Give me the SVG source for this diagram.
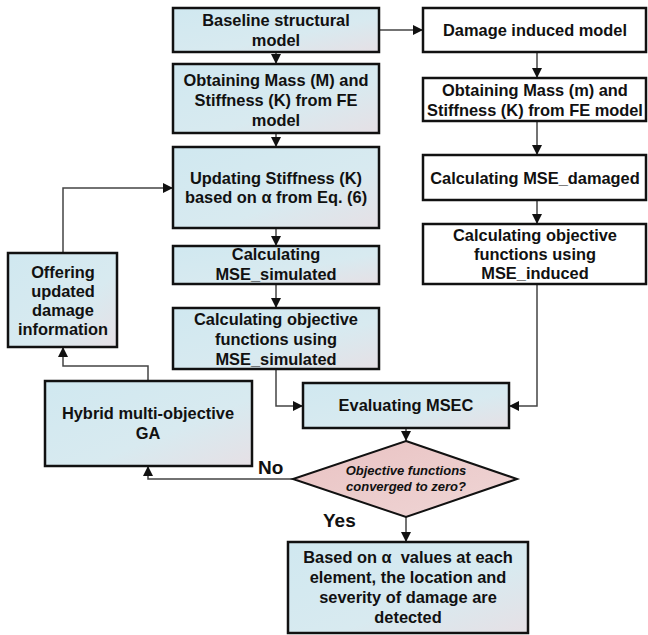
<svg xmlns="http://www.w3.org/2000/svg" width="648" height="635" viewBox="0 0 648 635">
<defs>
<linearGradient id="gb" x1="0" y1="0" x2="1" y2="1">
<stop offset="0" stop-color="#d0e8f0"/>
<stop offset="0.6" stop-color="#d8eaf0"/>
<stop offset="1" stop-color="#e6e0e5"/>
</linearGradient>
<linearGradient id="gp" x1="0" y1="0" x2="1" y2="1">
<stop offset="0" stop-color="#e9c2c2"/>
<stop offset="1" stop-color="#efd6d6"/>
</linearGradient>
<marker id="ah" markerUnits="userSpaceOnUse" markerWidth="10" markerHeight="10" viewBox="0 0 10 10" refX="10" refY="5" orient="auto">
<path d="M0,0 L10,5 L0,10 Z" fill="#111"/>
</marker>
</defs>
<style>
.b{fill:url(#gb);stroke:#111;stroke-width:2.5}
.w{fill:#fff;stroke:#111;stroke-width:2.5}
.d{fill:url(#gp);stroke:#111;stroke-width:2}
text{font-family:"Liberation Sans",Arial,sans-serif;font-weight:bold;font-size:16.4px;fill:#111;text-anchor:middle}
.i{font-style:italic;font-size:13px}
.l{font-size:19px;text-anchor:start}
#conn path{fill:none;stroke:#444;stroke-width:1.5;marker-end:url(#ah)}
</style>
<rect width="648" height="635" fill="#fff"/>
<g id="conn">
<path d="M276,52 V64"/>
<path d="M276,133 V147"/>
<path d="M276,228 V246"/>
<path d="M276,284 V308"/>
<path d="M276,369 V406 H303"/>
<path d="M379,30 H423"/>
<path d="M537,52 V78"/>
<path d="M537,121 V155"/>
<path d="M537,200 V224"/>
<path d="M537,284 V406 H509"/>
<path d="M406,428 V441"/>
<path d="M406,517 V542"/>
<path d="M293,479 H148 V466"/>
<path d="M148,381 V366 H63 V347"/>
<path d="M63,253 V188 H173"/>
</g>
<g id="baseline"><rect class="b" x="173" y="8" width="206" height="44"/>
<text x="276" y="26">Baseline structural</text><text x="276" y="46">model</text></g>
<g id="obtainM"><rect class="b" x="173" y="64" width="206" height="69"/>
<text x="276" y="86">Obtaining Mass (M) and</text><text x="276" y="106">Stiffness (K) from FE</text><text x="276" y="126">model</text></g>
<g id="updating"><rect class="b" x="173" y="147" width="206" height="81"/>
<text x="276" y="184">Updating Stiffness (K)</text><text x="276" y="203">based on α from Eq. (6)</text></g>
<g id="mseSim"><rect class="b" x="173" y="246" width="206" height="38"/>
<text x="276" y="260">Calculating</text><text x="276" y="280">MSE_simulated</text></g>
<g id="objSim"><rect class="b" x="173" y="308" width="206" height="61"/>
<text x="276" y="325">Calculating objective</text><text x="276" y="345">functions using</text><text x="276" y="365">MSE_simulated</text></g>
<g id="offering"><rect class="b" x="8" y="253" width="109" height="94"/>
<text x="63" y="278">Offering</text><text x="63" y="297">updated</text><text x="63" y="316">damage</text><text x="63" y="335">information</text></g>
<g id="hybrid"><rect class="b" x="45" y="381" width="207" height="85"/>
<text x="148" y="419">Hybrid multi-objective</text><text x="148" y="439">GA</text></g>
<g id="evaluating"><rect class="b" x="303" y="383" width="206" height="45"/>
<text x="406" y="411">Evaluating MSEC</text></g>
<g id="decision"><polygon class="d" points="406,441 517,479 406,517 293,479"/>
<text class="i" x="406" y="475">Objective functions</text><text class="i" x="406" y="491">converged to zero?</text></g>
<g id="final"><rect class="b" x="288" y="542" width="240" height="91"/>
<text x="408" y="563">Based on α&#160; values at each</text><text x="408" y="583">element, the location and</text><text x="408" y="603">severity of damage are</text><text x="408" y="623">detected</text></g>
<g id="damaged"><rect class="w" x="423" y="8" width="223" height="44"/>
<text x="535" y="36">Damage induced model</text></g>
<g id="obtainm"><rect class="w" x="423" y="78" width="223" height="43"/>
<text x="535" y="96">Obtaining Mass (m) and</text><text x="535" y="116">Stiffness (K) from FE model</text></g>
<g id="mseDam"><rect class="w" x="423" y="155" width="223" height="45"/>
<text x="535" y="184">Calculating MSE_damaged</text></g>
<g id="objInd"><rect class="w" x="423" y="224" width="223" height="60"/>
<text x="535" y="241">Calculating objective</text><text x="535" y="260">functions using</text><text x="535" y="279">MSE_induced</text></g>
<text class="l" x="258" y="474">No</text>
<text class="l" x="323" y="527">Yes</text>
</svg>
